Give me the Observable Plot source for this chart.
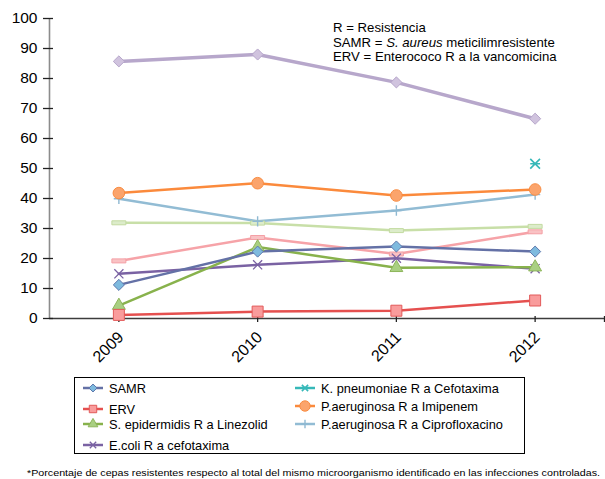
<!DOCTYPE html>
<html>
<head>
<meta charset="utf-8">
<script src="https://cdn.jsdelivr.net/npm/d3@7"></script>
<script src="https://cdn.jsdelivr.net/npm/@observablehq/plot@0.6"></script>
<style>
  html, body { margin: 0; padding: 0; background: #fff; }
  body { width: 605px; height: 479px; position: relative; overflow: hidden; font-family: "Liberation Sans", Arial, Helvetica, sans-serif; color: #000; }
  #chart { position: absolute; left: 0; top: 0; }
  #note { position: absolute; left: 333px; top: 21px; font-size: 13.2px; line-height: 14.6px; white-space: nowrap; }
  #legend { position: absolute; left: 74px; top: 377px; width: 451px; height: 77px; box-sizing: border-box; border: 1px solid #000; background: #fff; }
  .item { position: absolute; display: flex; align-items: center; font-size: 12.8px; white-space: nowrap; height: 14px; }
  .item svg { margin-right: 6px; overflow: visible; }
  #caption { position: absolute; left: 0; top: 460px; }
</style>
</head>
<body>
<div id="chart"></div>
<div id="note">R = Resistencia<br>SAMR = <i>S. aureus</i> meticilimresistente<br>ERV = Enterococo R a la vancomicina</div>
<div id="legend"></div>
<svg id="caption" width="605" height="19"></svg>
<script>
// ---- data ----
const years = [2009, 2010, 2011, 2012];
const yTicks = [0, 10, 20, 30, 40, 50, 60, 70, 80, 90, 100];
const samr   = [11.2, 22.3, 24.0, 22.3];
const erv    = [1.2, 2.3, 2.6, 6.0];
const sepi   = [4.3, 23.8, 16.9, 17.1];
const ecoli  = [14.9, 17.9, 20.1, 16.6];
const kpneu  = [null, null, null, 51.6];
const imip   = [41.8, 45.1, 41.0, 43.0];
const cipro  = [39.9, 32.4, 36.0, 41.3];
const serieVerde = [31.9, 31.8, 29.3, 30.7];
const serieRosa  = [19.2, 27.0, 21.5, 28.9];
const serieLila  = [85.7, 88.0, 78.7, 66.6];

const names = {
  samr: "SAMR", erv: "ERV", sepi: "S. epidermidis R a Linezolid", ecoli: "E.coli R a cefotaxima",
  kpneu: "K. pneumoniae R a Cefotaxima", imip: "P.aeruginosa R a Imipenem", cipro: "P.aeruginosa R a Ciprofloxacino"
};

// custom symbols
const dashRect = { draw(ctx) { ctx.moveTo(-7, -2); ctx.lineTo(7, -2); ctx.lineTo(7, 2); ctx.lineTo(-7, 2); ctx.closePath(); } };
const starX = { draw(ctx, size) { const r = Math.sqrt(size) * 0.55; ctx.moveTo(-r, -r); ctx.lineTo(r, r); ctx.moveTo(-r, r); ctx.lineTo(r, -r); ctx.moveTo(-r, 0); ctx.lineTo(r, 0); } };

const series = [
  {key: "lila",  values: serieLila,  line: "#b7a7cb", lw: 3.5, symbol: "diamond2", r: 5, fill: "#d0c3de", stroke: "#b7a7cb", sw: 1},
  {key: "verde", values: serieVerde, line: "#c8dfa8", lw: 2.5, symbol: dashRect, r: 4, fill: "#dcecca", stroke: "#c3dba2", sw: 1},
  {key: "rosa",  values: serieRosa,  line: "#f6a3a8", lw: 2.5, symbol: dashRect, r: 4, fill: "#f9c2c4", stroke: "#f4a0a6", sw: 1},
  {key: "cipro", values: cipro, line: "#92bcd4", lw: 2.5, symbol: "plus", r: 3.4, fill: "none", stroke: "#8fb9d2", sw: 1.4},
  {key: "imip",  values: imip,  line: "#fb8a3c", lw: 2.5, symbol: "circle", r: 5.8, fill: "#fba46c", stroke: "#f98c42", sw: 1},
  {key: "ecoli", values: ecoli, line: "#7a62a3", lw: 2.5, symbol: "times", r: 4.2, fill: "none", stroke: "#7a62a3", sw: 1.3},
  {key: "sepi",  values: sepi,  line: "#88b24c", lw: 2.5, symbol: "triangle", r: 4.8, fill: "#a9cf82", stroke: "#8db55a", sw: 1},
  {key: "samr",  values: samr,  line: "#6471a6", lw: 2.5, symbol: "diamond2", r: 5, fill: "#7ebade", stroke: "#5e78ad", sw: 1},
  {key: "erv",   values: erv,   line: "#e5504f", lw: 2.5, symbol: "square", r: 6.2, fill: "#f99c9c", stroke: "#e25a5a", sw: 1},
  {key: "kpneu", values: kpneu, line: "#36b8b8", lw: 2.5, symbol: starX, r: 5, fill: "none", stroke: "#36b8b8", sw: 1.6}
];

const marks = [];
for (const s of series) {
  const rows = years.map((y, i) => ({year: y, value: s.values[i]})).filter(d => d.value != null);
  if (rows.length > 1) marks.push(Plot.line(rows, {x: "year", y: "value", stroke: s.line, strokeWidth: s.lw, curve: "linear"}));
}
for (const s of series) {
  const rows = years.map((y, i) => ({year: y, value: s.values[i]})).filter(d => d.value != null);
  marks.push(Plot.dot(rows, {x: "year", y: "value", symbol: () => s.symbol, r: s.r, fill: s.fill, stroke: s.stroke, strokeWidth: s.sw}));
}

const chart = Plot.plot({
  width: 605, height: 370,
  marginLeft: 49, marginRight: 1, marginTop: 18, marginBottom: 52,
  x: {domain: [2008.5, 2012.5], label: null},
  y: {domain: [0, 100], label: null},
  symbol: {type: "identity"},
  style: {fontFamily: "'Liberation Sans', Arial, Helvetica, sans-serif", background: "transparent", color: "#000", overflow: "visible"},
  marks: [
    Plot.ruleX([2008.5], {stroke: "#8c8c8c", strokeWidth: 1.6}),
    Plot.ruleY([0], {stroke: "#3c3c3c", strokeWidth: 1.6}),
    Plot.axisY({ticks: yTicks, tickSize: 10, dx: 4, tickFormat: () => "", label: null, stroke: "#222", strokeWidth: 1.3}),
    Plot.axisY({ticks: yTicks, tickSize: 0, tickPadding: 12, fontSize: 15.5, label: null, tickFormat: d => String(d), fill: "#000"}),
    Plot.axisX({ticks: [...years, 2012.5], tickSize: 6, dy: -2, tickFormat: () => "", label: null, stroke: "#222", strokeWidth: 1.3}),
    Plot.axisX({ticks: years, tickSize: 0, tickPadding: 16, dx: 2, tickRotate: -45, fontSize: 16, label: null, tickFormat: d => String(d), fill: "#000"}),
    ...marks
  ]
});
document.getElementById("chart").appendChild(chart);

// ---- legend ----
const legendItems = [
  {key: "samr",  left: 9,   top: 11},
  {key: "erv",   left: 9,   top: 32},
  {key: "sepi",  left: 9,   top: 47},
  {key: "ecoli", left: 9,   top: 68},
  {key: "kpneu", left: 221, top: 11},
  {key: "imip",  left: 221, top: 29},
  {key: "cipro", left: 221, top: 47}
];
const smallR = {samr: 3.6, erv: 4.2, sepi: 3.6, ecoli: 3, kpneu: 3.2, imip: 5.2, cipro: 2.8};
const legend = document.getElementById("legend");
for (const it of legendItems) {
  const s = series.find(d => d.key === it.key);
  const div = document.createElement("div");
  div.className = "item";
  div.style.left = (it.left - 1) + "px";
  div.style.top = (it.top - 8) + "px";
  const NS = "http://www.w3.org/2000/svg";
  const svg = document.createElementNS(NS, "svg");
  svg.setAttribute("width", 20); svg.setAttribute("height", 12);
  const ln = document.createElementNS(NS, "line");
  ln.setAttribute("x1", 0); ln.setAttribute("x2", 20); ln.setAttribute("y1", 6); ln.setAttribute("y2", 6);
  ln.setAttribute("stroke", s.line); ln.setAttribute("stroke-width", 2.5);
  svg.appendChild(ln);
  const sym = typeof s.symbol === "string"
    ? {diamond2: d3.symbolDiamond2, plus: d3.symbolPlus, circle: d3.symbolCircle, times: d3.symbolTimes, triangle: d3.symbolTriangle, square: d3.symbolSquare}[s.symbol]
    : s.symbol;
  const p = document.createElementNS(NS, "path");
  const rr = smallR[s.key];
  p.setAttribute("d", d3.symbol(sym, rr * rr * Math.PI)());
  p.setAttribute("transform", "translate(10,6)");
  p.setAttribute("fill", s.fill); p.setAttribute("stroke", s.stroke); p.setAttribute("stroke-width", s.sw);
  svg.appendChild(p);
  div.appendChild(svg);
  const span = document.createElement("span");
  span.textContent = names[s.key];
  div.appendChild(span);
  legend.appendChild(div);
}

// ---- caption ----
const cap = d3.select("#caption");
cap.append("text")
  .attr("x", 27).attr("y", 16)
  .attr("font-size", 9).attr("font-family", "'Liberation Sans', Arial, sans-serif")
  .attr("textLength", 573).attr("lengthAdjust", "spacingAndGlyphs")
  .text("*Porcentaje de cepas resistentes respecto al total del mismo microorganismo identificado en las infecciones controladas.");
</script>
</body>
</html>
